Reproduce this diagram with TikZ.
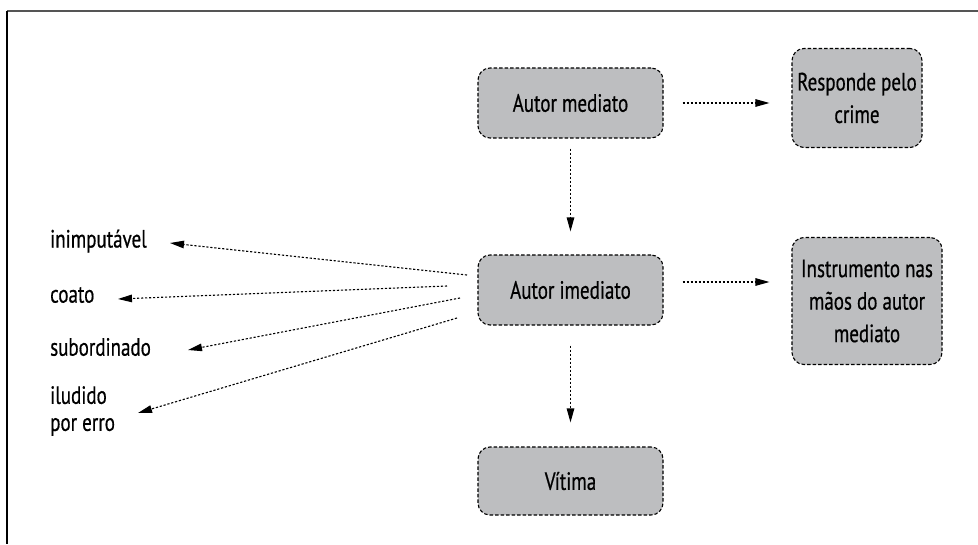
\documentclass[tikz,border=0pt]{standalone}
\usepackage{fontspec}
\setmainfont{PT Sans}[FakeStretch=0.76,FakeBold=0.6]
\usetikzlibrary{arrows.meta}
\definecolor{boxgray}{HTML}{BDBEC0}
\definecolor{framegray}{HTML}{555555}
\tikzset{
  box/.style={draw=black, fill=boxgray, rounded corners=12pt, line width=1.1pt,
    dash pattern=on 3.5pt off 2pt, align=center, inner sep=2pt,
    font=\fontsize{25}{32.5}\selectfont},
  lab/.style={anchor=west, align=left, inner sep=0pt, font=\fontsize{25}{27}\selectfont},
  arr/.style={line width=1.1pt, dash pattern=on 2.2pt off 1.8pt,
    -{Triangle[length=14pt,width=7.5pt]}},
}
\begin{document}
\begin{tikzpicture}[x=1pt,y=-1pt]
\useasboundingbox (0,0) rectangle (978,544);
% frame
\draw[framegray, line width=1.6pt] (7,11) -- (978,11);
\draw[black, line width=2pt] (7,11) -- (7,544);
% boxes
\node[box, minimum width=185pt, minimum height=70pt] (am) at (570.5,103) {Autor mediato};
\node[box, minimum width=130pt, minimum height=99pt] (rc) at (857,98) {Responde pelo\\crime};
\node[box, minimum width=185pt, minimum height=70pt] (ai) at (570.5,290) {Autor imediato};
\node[box, minimum width=150pt, minimum height=127pt] (inst) at (867,301) {Instrumento nas\\mãos do autor\\mediato};
\node[box, minimum width=185pt, minimum height=68pt] (vit) at (570.5,481) {Vítima};
% left labels
\node[lab] (imp) at (50,241) {inimputável};
\node[lab] (coa) at (50,295) {coato};
\node[lab] (sub) at (50,347) {subordinado};
\node[lab] (ilu) at (50,411) {iludido\\por erro};
% connectors
\draw[arr, shorten <=19pt, shorten >=22pt] (am.east) -- (am.east -| rc.west);
\draw[arr, shorten <=19pt, shorten >=22pt] (ai.east |- 0,282) -- (inst.west |- 0,282);
\draw[arr, shorten <=10pt, shorten >=23pt] (am.south) -- (ai.north);
\draw[arr, shorten <=20pt, shorten >=24pt] (ai.south) -- (vit.north);
\coordinate (s1) at (467,275); \coordinate (t1) at (170,243);
\coordinate (s2) at (447,286); \coordinate (t2) at (118,299);
\coordinate (s3) at (460,298); \coordinate (t3) at (188,350);
\coordinate (s4) at (457,318); \coordinate (t4) at (138,413);
\draw[arr] (s1) -- (t1);
\draw[arr] (s2) -- (t2);
\draw[arr] (s3) -- (t3);
\draw[arr] (s4) -- (t4);
\end{tikzpicture}
\end{document}
